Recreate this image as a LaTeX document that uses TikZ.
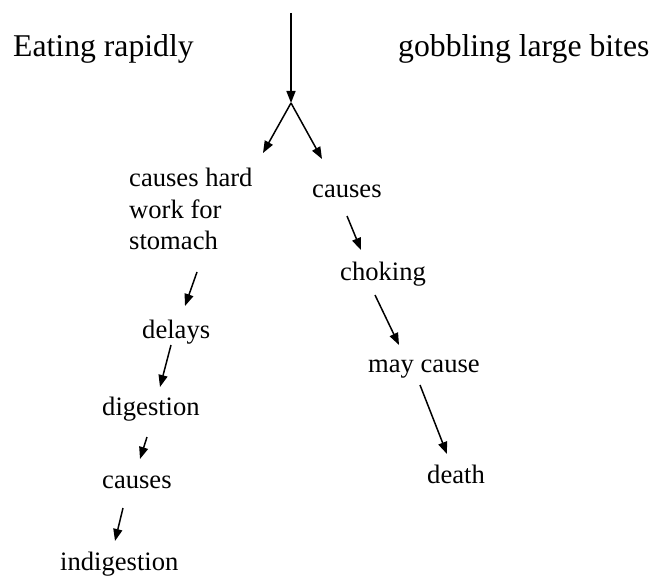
\documentclass[tikz,border=0pt]{standalone}
\usepackage{fontspec}
\newfontfamily\tnr{Liberation Serif}
\usetikzlibrary{arrows.meta}
\tikzset{
  big/.style={font=\tnr\fontsize{31.7}{38}\selectfont, inner sep=0pt, anchor=base west},
  lbl/.style={font=\tnr\fontsize{26.6}{31.5}\selectfont, inner sep=0pt, anchor=base west},
  arr/.style={line width=1.5pt, -{Triangle[length=12pt,width=9pt]}}
}
\begin{document}
\begin{tikzpicture}[x=1pt,y=-1pt]
\useasboundingbox (0,0) rectangle (652,577);
\node[big] (eat) at (13,57) {Eating rapidly};
\node[big] (gob) at (398,57) {gobbling large bites};
\node[lbl, align=left, anchor=north west] (hard) at (129,168) {causes hard\\work for\\stomach};
\node[lbl] (delays) at (142,338) {delays};
\node[lbl] (dig) at (102,415) {digestion};
\node[lbl] (causesL) at (102,488) {causes};
\node[lbl] (indig) at (60,570) {indigestion};
\node[lbl] (causesR) at (312,197) {causes};
\node[lbl] (chok) at (340,280) {choking};
\node[lbl] (may) at (368,372) {may cause};
\node[lbl] (death) at (427,483) {death};
% connector end points
\coordinate (top) at (291,13);
\coordinate (split) at (291,103);
\coordinate (lt) at (263,153);
\coordinate (rt) at (322,159);
\coordinate (a1s) at (197,272); \coordinate (a1e) at (185,306);
\coordinate (a2s) at (171,345); \coordinate (a2e) at (160,387);
\coordinate (a3s) at (147,437); \coordinate (a3e) at (140,459);
\coordinate (a4s) at (123,508); \coordinate (a4e) at (115,541);
\coordinate (b1s) at (347,216); \coordinate (b1e) at (361,250);
\coordinate (b2s) at (375,295); \coordinate (b2e) at (399,345);
\coordinate (b3s) at (420,385); \coordinate (b3e) at (447,454);
\draw[arr] (top) -- (split);
\draw[arr] (split) -- (lt);
\draw[arr] (split) -- (rt);
\draw[arr] (a1s) -- (a1e);
\draw[arr] (a2s) -- (a2e);
\draw[arr] (a3s) -- (a3e);
\draw[arr] (a4s) -- (a4e);
\draw[arr] (b1s) -- (b1e);
\draw[arr] (b2s) -- (b2e);
\draw[arr] (b3s) -- (b3e);
\end{tikzpicture}
\end{document}
